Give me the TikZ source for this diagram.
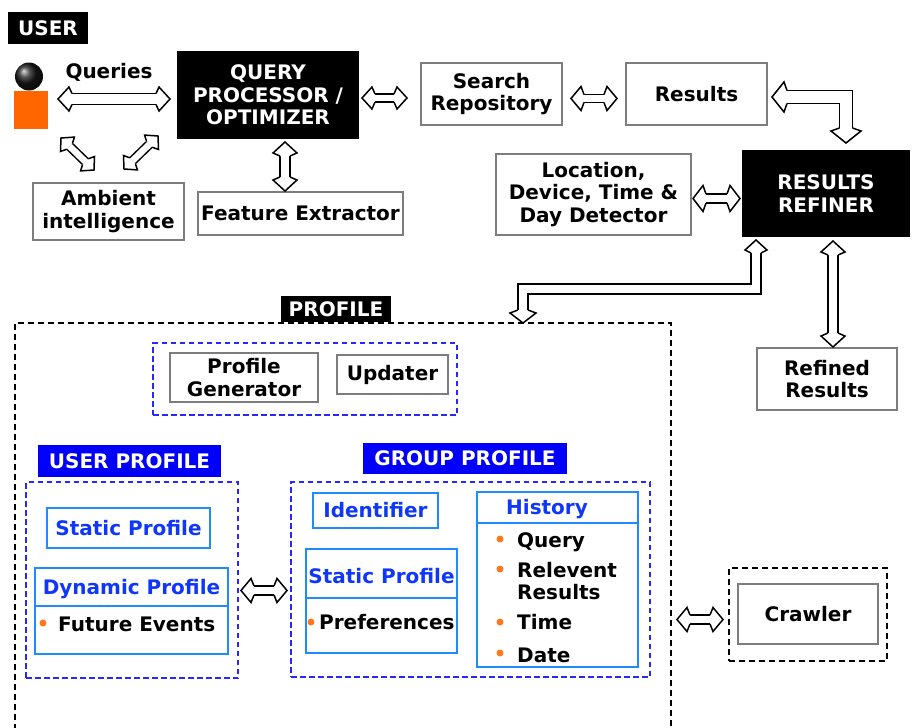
\documentclass[tikz,border=0pt]{standalone}
\usepackage{fontspec}
\setmainfont{DejaVu Sans}
\usetikzlibrary{calc}
\definecolor{boxgray}{RGB}{125,125,125}
\definecolor{lblue}{RGB}{0,0,250}
\definecolor{bborder}{RGB}{30,140,255}
\definecolor{tblue}{RGB}{15,55,250}
\definecolor{dblue}{RGB}{40,40,250}
\definecolor{uorange}{RGB}{255,102,0}
\definecolor{bulor}{RGB}{255,120,30}
% hollow arrow head: tip, angle, shaft half width, head half width, head length
\newcommand\hollowhead[5]{%
  \begin{scope}[shift={#1}, rotate=#2]
    \filldraw[fill=white, draw=black, line width=1.5pt, line join=miter, miter limit=10]
      (-#5pt-3pt,#3pt) -- (-#5pt,#4pt) -- (0pt,0pt) -- (-#5pt,-#4pt) -- (-#5pt-3pt,-#3pt);
  \end{scope}}
\newcommand\dblarrow[6]{%
  \pgfmathsetmacro\mydd{2*#4-1.5}%
  \pgfmathsetmacro\mysh{#6+3}%
  \draw[line width=1.5pt, double=white, double distance=\mydd pt, shorten <=\mysh pt, shorten >=\mysh pt] #1 -- #2;
  \hollowhead{#2}{#3}{#4}{#5}{#6}%
  \hollowhead{#1}{#3+180}{#4}{#5}{#6}}
\begin{document}
\begin{tikzpicture}[x=1pt,y=-1pt,
  every node/.style={font=\bfseries\fontsize{20}{22.5}\selectfont, inner sep=0pt},
  box/.style={draw=boxgray, line width=1.7pt, fill=white, align=center},
  blk/.style={fill=black, text=white, align=center},
  blab/.style={fill=lblue, text=white},
  bbox/.style={draw=bborder, line width=1.9pt},
  bline/.style={draw=bborder, line width=1.9pt},
  bdash/.style={draw=dblue, line width=1.6pt, dash pattern=on 5.5pt off 3.5pt},
  kdash/.style={draw=black, line width=1.4pt, dash pattern=on 6pt off 4pt},
  btxt/.style={text=tblue},
  bul/.style={circle, fill=bulor, minimum size=7pt},
  shaft/.style={line width=1.5pt, double=white, line join=miter}
]
\useasboundingbox (0,0) rectangle (913,728);
\clip (0,0) rectangle (913,728);
\fill[white] (0,0) rectangle (913,728);

% ---------- top part ----------
\node[blk, minimum width=80pt, minimum height=32pt] (userlab) at (48,28) {USER};
\node[circle, minimum size=28pt, shading=ball, ball color=black!90] (head) at (29,76.5) {};
\node[fill=uorange, minimum width=34pt, minimum height=38pt] (body) at (31,110) {};
\node[anchor=base] (queries) at (109,78) {Queries};

\node[blk, minimum width=182pt, minimum height=88pt] (qp) at (268,95) {QUERY\\PROCESSOR /\\OPTIMIZER};
\node[box, minimum width=151pt, minimum height=57pt] (amb) at (108.5,211.5) {Ambient\\intelligence};
\node[box, minimum width=205pt, minimum height=43pt] (fex) at (300.5,213.5) {Feature Extractor};
\node[box, minimum width=141pt, minimum height=62pt] (srep) at (491.5,94) {Search\\Repository};
\node[box, minimum width=141pt, minimum height=62pt] (res) at (696.5,94) {Results};
\node[box, minimum width=195pt, minimum height=81pt] (loc) at (593.5,194.5) {Location,\\Device, Time \&\\Day Detector};
\node[blk, minimum width=168pt, minimum height=87pt] (refiner) at (826,193.5) {RESULTS\\REFINER};
\node[box, minimum width=140pt, minimum height=62pt] (refined) at (827,379) {Refined\\Results};

% ---------- profile ----------
\node[kdash, minimum width=656pt, minimum height=437pt] (profile) at (343,541.5) {};
\node[blk, minimum width=110pt, minimum height=26pt] (proflab) at (336,309) {PROFILE};

\node[bdash, minimum width=304pt, minimum height=72pt] (pgbox) at (305,379) {};
\node[box, minimum width=148pt, minimum height=49pt] (pgen) at (244,377.5) {Profile\\Generator};
\node[box, minimum width=111pt, minimum height=39pt] (upd) at (392.5,374.5) {Updater};

% user profile
\node[blab, minimum width=183pt, minimum height=32pt] (uplab) at (129.5,461) {USER PROFILE};
\node[bdash, minimum width=212pt, minimum height=196pt] (upbox) at (132,580) {};
\node[bbox, minimum width=163pt, minimum height=40pt, text=tblue] (usp) at (128.5,528) {Static Profile};
\node[bbox, minimum width=193pt, minimum height=86pt] (dyn) at (131.5,611) {};
\draw[bline] (35,606) -- (228,606);
\node[btxt, anchor=base] (dyntitle) at (131.5,594) {Dynamic Profile};
\node[bul] (bfe) at (43,623) {};
\node[anchor=base west] (fev) at (58,631) {Future Events};

% group profile
\node[blab, minimum width=204pt, minimum height=31pt] (gplab) at (465,458.5) {GROUP PROFILE};
\node[bdash, minimum width=359pt, minimum height=195pt] (gpbox) at (470.5,579.5) {};
\node[bbox, minimum width=125pt, minimum height=35pt, text=tblue] (ident) at (375.5,510.5) {Identifier};
\node[bbox, minimum width=151pt, minimum height=104pt] (gsp) at (381.5,601) {};
\draw[bline] (306,598) -- (457,598);
\node[btxt, anchor=base] (gsptitle) at (381.5,583) {Static Profile};
\node[bul] (bpref) at (311,622) {};
\node[anchor=base west] (pref) at (319,629) {Preferences};

\node[bbox, minimum width=161pt, minimum height=175pt] (hist) at (557.5,579.5) {};
\draw[bline] (477,523) -- (638,523);
\node[btxt, anchor=base] (histtitle) at (547,514) {History};
\node[bul] (bq) at (500,539) {};
\node[bul] (br) at (500,569) {};
\node[bul] (bt) at (500,622) {};
\node[bul] (bd) at (500,653) {};
\node[anchor=base west] (hq) at (517,547) {Query};
\node[anchor=north west, align=left, font=\bfseries\fontsize{20}{22}\selectfont] (hr) at (517,562) {Relevent\\Results};
\node[anchor=base west] (ht) at (517,629) {Time};
\node[anchor=base west] (hd) at (517,662) {Date};

% crawler
\node[kdash, minimum width=158pt, minimum height=93pt] (crbox) at (808,614.5) {};
\node[box, minimum width=140pt, minimum height=60pt] (crawler) at (808,614) {Crawler};

% ---------- connectors ----------
\coordinate (qa1) at (58,99);   \coordinate (qa2) at (170,99);
\coordinate (da1) at (61,138);  \coordinate (da2) at (94,170);
\coordinate (db1) at (124,169); \coordinate (db2) at (158,136);
\coordinate (fa1) at (285,142); \coordinate (fa2) at (285,191);
\coordinate (sa1) at (362,98);  \coordinate (sa2) at (407,98);
\coordinate (ra1) at (571,98.5); \coordinate (ra2) at (617,98.5);
\coordinate (la1) at (693,198.5); \coordinate (la2) at (740,198.5);
\coordinate (fr1) at (833,241); \coordinate (fr2) at (833,347);
\coordinate (ug1) at (241,590.5); \coordinate (ug2) at (287,590.5);
\coordinate (pc1) at (677,619.5); \coordinate (pc2) at (723,619.5);

\dblarrow{(qa1)}{(qa2)}{0}{5.5}{12}{11}
\dblarrow{(da1)}{(da2)}{-44.1}{4}{10}{9}
\dblarrow{(db1)}{(db2)}{44.1}{4}{10}{9}
\dblarrow{(fa1)}{(fa2)}{-90}{5}{12}{11}
\dblarrow{(sa1)}{(sa2)}{0}{4}{11}{10}
\dblarrow{(ra1)}{(ra2)}{0}{4}{12}{10}
\dblarrow{(la1)}{(la2)}{0}{4.5}{13}{10}
\dblarrow{(fr1)}{(fr2)}{-90}{5}{12}{11}
\dblarrow{(ug1)}{(ug2)}{0}{4.5}{12}{10}
\dblarrow{(pc1)}{(pc2)}{0}{4.5}{12}{10}

% bent arrow Results <-> Refiner
\coordinate (ba1) at (772,97); \coordinate (bac) at (846,97); \coordinate (ba2) at (846,143);
\draw[shaft, double distance=11.5pt, shorten <=15pt, shorten >=15pt] (ba1) -- (bac) -- (ba2);
\hollowhead{(ba1)}{180}{6.5}{15}{12}
\hollowhead{(ba2)}{-90}{6.5}{15}{12}

% bent arrow Refiner <-> Profile
\coordinate (bb1) at (756,240); \coordinate (bbc1) at (756,289); \coordinate (bbc2) at (523,289); \coordinate (bb2) at (523,323);
\draw[shaft, double distance=8.5pt, shorten <=13pt, shorten >=13pt] (bb1) -- (bbc1) -- (bbc2) -- (bb2);
\hollowhead{(bb1)}{90}{5}{11}{10}
\hollowhead{(bb2)}{-90}{5}{13}{10}
\end{tikzpicture}
\end{document}
